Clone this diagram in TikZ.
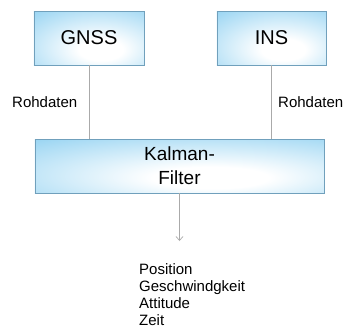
\documentclass[tikz,border=0pt]{standalone}
\usepackage{fontspec}
\setmainfont{Liberation Sans}
\usetikzlibrary{arrows.meta}

\definecolor{boxblue}{RGB}{125,201,239}
\definecolor{boxline}{RGB}{112,160,188}
\definecolor{wire}{RGB}{170,170,170}

% soft glow: white near the lower middle, sky blue towards the edges
\pgfdeclareradialshading{boxglow}{\pgfpoint{6bp}{-12bp}}{%
  color(0bp)=(white); color(10bp)=(white); color(52bp)=(boxblue); color(100bp)=(boxblue)}

\tikzset{
  unit/.style={draw=boxline, line width=0.6bp, shading=boxglow,
    minimum width=#1, minimum height=54bp, inner sep=0pt, align=center},
  boxtext/.style={font=\fontsize{20bp}{24bp}\selectfont},
  kalmantext/.style={font=\fontsize{19bp}{24bp}\selectfont},
  small/.style={font=\fontsize{15bp}{17bp}\selectfont, inner sep=0pt},
  wireline/.style={draw=wire, line width=0.7bp},
}

\begin{document}
\begin{tikzpicture}[x=1bp,y=-1bp]
  \useasboundingbox (0,0) rectangle (346,327);

  \node[unit=110bp, boxtext] (gnss) at (89,38) {GNSS};
  \node[unit=109bp, boxtext] (ins) at (271.5,38) {INS};
  \node[unit=289bp, kalmantext] (kalman) at (179.5,166) {Kalman-\\Filter};

  \draw[wireline] (gnss.south) -- (gnss.south |- kalman.north);
  \draw[wireline] (ins.south) -- (ins.south |- kalman.north);

  \node[small, anchor=base west] (rawl) at (12,107) {Rohdaten};
  \node[small, anchor=base west] (rawr) at (278,107) {Rohdaten};

  \coordinate (out) at (kalman.south |- 0,241);
  \draw[wireline, -{Straight Barb[length=4bp,width=7bp]}] (kalman.south) -- (out);

  \node[small, anchor=north west, align=left] (result) at (139,263)
    {Position\\Geschwindgkeit\\Attitude\\Zeit};
\end{tikzpicture}
\end{document}
